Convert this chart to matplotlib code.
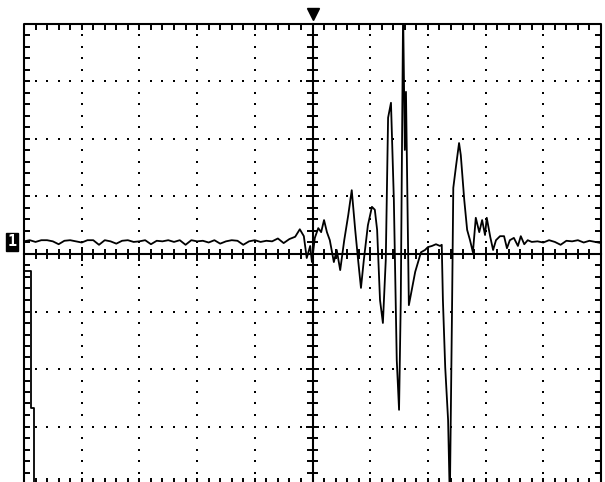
import numpy as np
from matplotlib import pyplot as plt
from matplotlib.collections import LineCollection
from matplotlib.patches import Rectangle

# scope screen is 10 x 8 divisions, values below are in divisions
N_DIV_X = 10
N_DIV_Y = 8

# channel 1, quiet part before the burst (one sample every 0.1 div)
pre_t = np.round(np.arange(48) * 0.1, 2)
pre_v = [0.22, 0.24, 0.21, 0.24, 0.24, 0.22, 0.17, 0.23, 0.24, 0.22,
         0.20, 0.24, 0.24, 0.16, 0.24, 0.22, 0.18, 0.23, 0.24, 0.21,
         0.22, 0.24, 0.17, 0.23, 0.22, 0.24, 0.21, 0.24, 0.16, 0.24,
         0.22, 0.23, 0.20, 0.24, 0.18, 0.22, 0.24, 0.23, 0.16, 0.22,
         0.24, 0.21, 0.23, 0.22, 0.27, 0.19, 0.26, 0.30]

# channel 1, the burst
burst_t = [4.78, 4.85, 4.90, 4.96, 4.99, 5.04, 5.10, 5.15, 5.20, 5.25,
           5.30, 5.37, 5.42, 5.48, 5.55, 5.62, 5.68, 5.74, 5.79, 5.84,
           5.89, 5.96, 6.03, 6.08, 6.12, 6.17, 6.22, 6.27, 6.31, 6.36,
           6.41, 6.46, 6.50, 6.53, 6.57, 6.60, 6.62, 6.67, 6.72, 6.78,
           6.83, 6.88, 6.95, 7.00, 7.07, 7.14, 7.21, 7.24, 7.26, 7.30,
           7.35, 7.38, 7.42, 7.44, 7.49, 7.54, 7.57, 7.63, 7.68, 7.73,
           7.78, 7.83, 7.89, 7.94, 7.99, 8.02, 8.08, 8.13, 8.18, 8.25,
           8.32, 8.37, 8.42, 8.49, 8.56, 8.61, 8.67, 8.73, 8.80]
burst_v = [0.43, 0.31, -0.07, 0.14, -0.14, 0.28, 0.45, 0.38, 0.59, 0.38,
           0.24, -0.14, 0.07, -0.28, 0.24, 0.68, 1.11, 0.42, -0.10, -0.59,
           -0.10, 0.50, 0.82, 0.77, 0.42, -0.80, -1.20, -0.10, 2.37, 2.63,
           0.94, -1.84, -2.71, -0.80, 4.24, 1.81, 2.82, -0.89, -0.63, -0.31,
           -0.14, 0.03, 0.07, 0.12, 0.14, 0.17, 0.14, 0.16, -0.80, -1.97,
           -2.89, -4.28, -0.80, 1.15, 1.55, 1.93, 1.72, 0.94, 0.42, 0.24,
           0.03, 0.63, 0.38, 0.59, 0.33, 0.63, 0.30, 0.07, 0.24, 0.31,
           0.31, 0.10, 0.24, 0.28, 0.14, 0.31, 0.17, 0.24, 0.21]

# channel 1, tail after the burst
post_t = np.round(8.9 + np.arange(12) * 0.1, 2)
post_v = [0.22, 0.20, 0.24, 0.21, 0.16, 0.23, 0.22, 0.24, 0.20, 0.23,
          0.21, 0.19]

# second trace, mostly off screen at the left edge
low_t = [0.0, 0.12, 0.12, 0.17, 0.17]
low_v = [-0.30, -0.30, -2.68, -2.68, -4.3]

ch1_ground = 0.21
trig_pos = 5.0

# pixel placement of the screen inside the 605x482 picture
PX_X0, PX_Y0 = 24, 254
PX_DX, PX_DY = 57.7, 57.5

fig = plt.figure(figsize=(6.05, 4.82), dpi=100)
ax = fig.add_axes([0, 0, 1, 1])
ax.set_xlim(-PX_X0 / PX_DX, (605 - PX_X0) / PX_DX)
ax.set_ylim((PX_Y0 - 482) / PX_DY, PX_Y0 / PX_DY)
ax.axis('off')

hx, hy = N_DIV_X / 2, N_DIV_Y / 2

# frame
ax.plot([0, N_DIV_X, N_DIV_X, 0, 0], [-hy, -hy, hy, hy, -hy],
        color='black', lw=1.5, solid_capstyle='projecting')

# ticks on frame edges and on the centre cross
segs = []
tl = 0.11
for i in range(1, N_DIV_X * 5):
    t = i * 0.2
    cl = 0.12 if i % 5 == 0 else 0.09
    segs.append([(t, hy), (t, hy - tl)])
    segs.append([(t, -hy), (t, -hy + tl)])
    segs.append([(t, -cl), (t, cl)])
for j in range(1, N_DIV_Y * 5):
    v = -hy + j * 0.2
    cl = 0.12 if j % 5 == 0 else 0.09
    segs.append([(0, v), (tl, v)])
    segs.append([(N_DIV_X, v), (N_DIV_X - tl, v)])
    segs.append([(hx - cl, v), (hx + cl, v)])
ax.add_collection(LineCollection(segs, colors='black', linewidths=1.4))
ax.plot([0, N_DIV_X], [0, 0], color='black', lw=1.5)
ax.plot([hx, hx], [-hy, hy], color='black', lw=1.5)

# dotted graticule
dx, dy = [], []
for t in range(1, N_DIV_X):
    if t == hx:
        continue
    for k in range(1, N_DIV_Y * 5):
        dx.append(t)
        dy.append(-hy + k * 0.2)
for v in range(-3, 4):
    if v == 0:
        continue
    for k in range(1, N_DIV_X * 5):
        dx.append(k * 0.2)
        dy.append(v)
ax.scatter(dx, dy, s=2.5, marker='s', color='black', linewidths=0)

# traces, clipped to the screen height
clip = Rectangle((-1, -hy), N_DIV_X + 2, N_DIV_Y, transform=ax.transData)
t_all = np.concatenate([pre_t, burst_t, post_t])
v_all = np.concatenate([pre_v, burst_v, post_v])
line, = ax.plot(t_all, v_all, color='black', lw=1.3)
line.set_clip_path(clip)
line2, = ax.plot(low_t, low_v, color='black', lw=1.3)
line2.set_clip_path(clip)

# trigger marker and channel marker
ax.plot(trig_pos, (PX_Y0 - 14) / PX_DY, marker='v', ms=9, color='black',
        clip_on=False)
ax.text(-12 / PX_DX, ch1_ground, '1', ha='center', va='center', fontsize=11,
        fontweight='bold', color='white', family='DejaVu Sans Mono',
        bbox=dict(boxstyle='square,pad=0.08', fc='black', ec='black'))

fig.savefig('out.png', dpi=100)
